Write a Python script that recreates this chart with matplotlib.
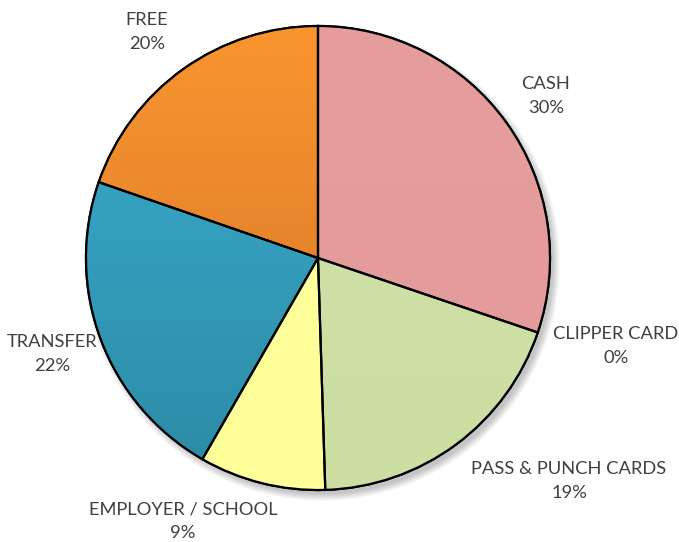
import numpy as np
import matplotlib
matplotlib.use("Agg")
import matplotlib.pyplot as plt
from matplotlib.colors import to_rgb
from matplotlib.patches import Circle, Wedge

# Data (clockwise from 12 o'clock)
categories = ["CASH", "CLIPPER CARD", "PASS & PUNCH CARDS", "EMPLOYER / SCHOOL", "TRANSFER", "FREE"]
shares = [30.2, 0.0, 19.3, 8.8, 22.0, 19.7]
colors_top = ["#E59D9D", "#E59D9D", "#D0E2A8", "#FFFF9E", "#3AAED0", "#F9952F"]
colors_bottom = ["#E39A9A", "#E39A9A", "#CCDEA2", "#FFFF99", "#2C8AA5", "#D4742A"]

W, H = 679, 542
fig = plt.figure(figsize=(W / 100, H / 100), dpi=100)
ax = fig.add_axes([0, 0, 1, 1])

cx, cy, R = 318, H - 258, 232

# soft drop shadow
for i in range(10):
    ax.add_patch(Circle((cx + 4, cy - 5), R + 6 - i * 0.8, color="black",
                        alpha=0.025, lw=0, zorder=0))

wedges, texts = ax.pie(shares, startangle=90, counterclock=False,
                       center=(cx, cy), radius=R,
                       labels=[f"{c}\n{v:.0f}%" for c, v in zip(categories, shares)],
                       colors=colors_top,
                       wedgeprops=dict(edgecolor="black", linewidth=1.6),
                       textprops=dict(fontsize=13.2, color="#404040", family="Lato",
                                      ha="center", va="center", linespacing=1.6),
                       frame=True)
ax.set_xlim(0, W)
ax.set_ylim(0, H)
ax.set_aspect("equal")
ax.axis("off")

# vertical gradient inside each wedge
for w, ct, cb in zip(wedges, colors_top, colors_bottom):
    if w.theta2 - w.theta1 <= 0:
        continue
    t = np.array(to_rgb(ct))
    b = np.array(to_rgb(cb))
    f = np.linspace(0, 1, 256)[:, None]
    grad = (t[None, :] * (1 - f) + b[None, :] * f)[:, None, :]
    im = ax.imshow(grad, extent=(cx - R, cx + R, cy - R, cy + R), origin="upper",
                   aspect="auto", zorder=w.get_zorder() + 0.1, interpolation="bilinear")
    im.set_clip_path(w)
    edge = Wedge(w.center, w.r, w.theta1, w.theta2, fill=False, edgecolor="black",
                 linewidth=1.6, zorder=w.get_zorder() + 0.2)
    ax.add_patch(edge)

ax.set_xlim(0, W)
ax.set_ylim(0, H)

# label positions (pixel coords, as placed in the original)
label_pos = [(546, 96), (616, 346), (569, 481), (183, 521), (52, 354), (147, 32)]
for t, (x, y) in zip(texts, label_pos):
    t.set_position((x, H - y))
    t.set_zorder(10)

fig.savefig("out.png", dpi=100)
